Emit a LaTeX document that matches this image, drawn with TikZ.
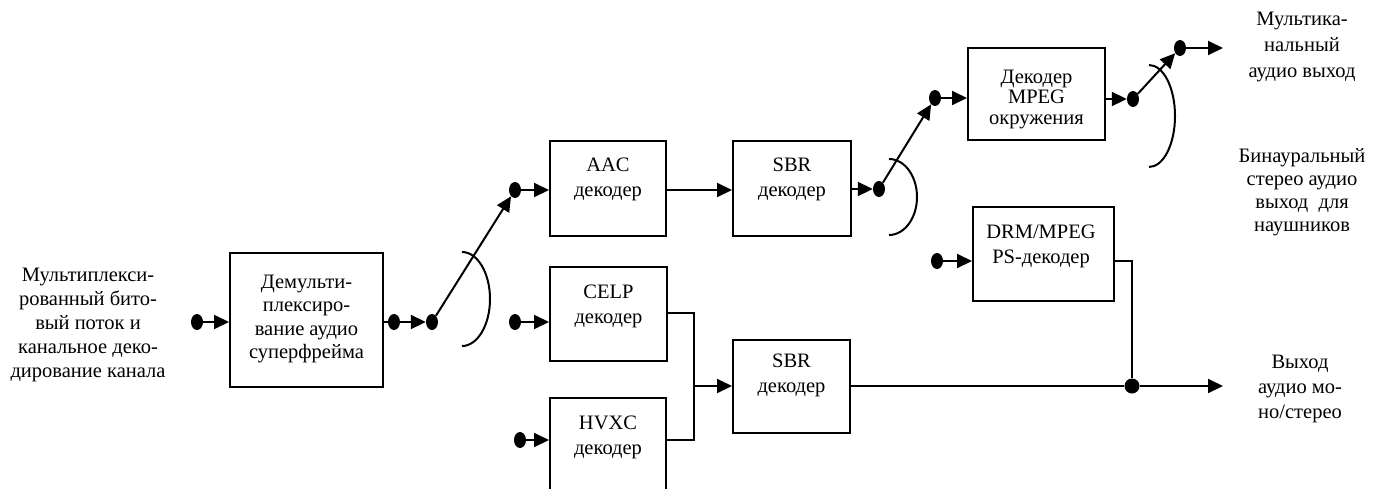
\documentclass[tikz,border=0pt]{standalone}
\usepackage{fontspec}
\setmainfont{Liberation Serif}
\usetikzlibrary{arrows.meta,shapes.geometric}
\tikzset{
  box/.style={draw,line width=2pt,inner sep=0pt},
  dotn/.style={ellipse,fill,minimum width=12pt,minimum height=16pt,inner sep=0pt},
  jdot/.style={circle,fill,minimum size=15pt,inner sep=0pt},
  ln/.style={line width=2pt},
  arr/.style={ln,-{Triangle[length=15pt,width=14pt]}},
  txt/.style={align=center,inner sep=0pt,font=\fontsize{20.5}{#1}\selectfont},
  txt/.default=25
}
\begin{document}
\begin{tikzpicture}[x=1pt,y=-1pt]
\useasboundingbox (0,0) rectangle (1379,488);
\clip (0,0) rectangle (1379,488);
% boxes
\node[box,minimum width=153pt,minimum height=134pt] (demux) at (306.5,320) {};
\node[box,minimum width=116pt,minimum height=95pt] (aac) at (608,188.5) {};
\node[box,minimum width=118pt,minimum height=95pt] (sbr1) at (792,188.5) {};
\node[box,minimum width=137pt,minimum height=92pt] (mpeg) at (1036.5,94) {};
\node[box,minimum width=141pt,minimum height=94pt] (drm) at (1043.5,254) {};
\node[box,minimum width=117pt,minimum height=94pt] (celp) at (608.5,314) {};
\node[box,minimum width=116pt,minimum height=104pt] (hvxc) at (608,450) {};
\node[box,minimum width=117pt,minimum height=93pt] (sbr2) at (791.5,386) {};
% texts
\node[txt=24] (lin) at (88,325) {Мультиплекси-\\рованный бито-\\вый поток и\\канальное деко-\\дирование канала};
\node[txt=23.3] (demuxT) at (306.5,319) {Демульти-\\плексиро-\\вание аудио\\суперфрейма};
\node[txt] (aacT) at (608,179) {AAC\\декодер};
\node[txt] (sbr1T) at (792,179) {SBR\\декодер};
\node[txt=20.5] (mpegT) at (1036.5,99) {Декодер\\MPEG\\окружения};
\node[txt] (drmT) at (1041,246) {DRM/MPEG\\PS-декодер};
\node[txt] (celpT) at (608.5,306) {CELP\\декодер};
\node[txt] (hvxcT) at (608,437) {HVXC\\декодер};
\node[txt] (sbr2T) at (791.5,375) {SBR\\декодер};
\node[txt=26] (outT1) at (1302,47) {Мультика-\\нальный\\аудио выход};
\node[txt=23] (outT2) at (1302,192) {Бинауральный\\стерео аудио\\выход\ \ для\\наушников};
\node[txt=25] (outT3) at (1300,389) {Выход\\аудио мо-\\но/стерео};
% dots
\node[dotn] (d0) at (197,322) {};
\node[dotn] (d1) at (394,322) {};
\node[dotn] (d2) at (432,322) {};
\node[dotn] (d3) at (515,190) {};
\node[dotn] (d4) at (515,322) {};
\node[dotn] (d5) at (520,440) {};
\node[dotn] (d6) at (879,189) {};
\node[dotn] (d7) at (935,98) {};
\node[dotn] (d8) at (1133,99) {};
\node[dotn] (d9) at (1180,48) {};
\node[dotn] (d10) at (937,261) {};
\node[jdot] (j) at (1132,386) {};
\coordinate (o1) at (1223,48);
\coordinate (o2) at (1223,386);
\coordinate (m) at (694,386);
% connectors
\draw[arr] (d0) -- (demux.west |- d0);
\draw[ln] (demux.east |- d1) -- (d1);
\draw[arr] (d1) -- (d2);
\draw[arr] (d2) -- (d3);
\draw[arr] (d3) -- (aac.west |- d3);
\draw[arr] (d4) -- (celp.west |- d4);
\draw[arr] (d5) -- (hvxc.west |- d5);
\draw[arr] (aac.east |- 0,190) -- (sbr1.west |- 0,190);
\draw[arr] (sbr1.east |- d6) -- (d6);
\draw[arr] (d6) -- (d7);
\draw[arr] (d7) -- (mpeg.west |- d7);
\draw[arr] (mpeg.east |- d8) -- (d8);
\draw[arr] (d8) -- (d9);
\draw[arr] (d9) -- (o1);
\draw[arr] (d10) -- (drm.west |- d10);
\draw[ln] (celp.east |- 0,313) -- (694,313) -- (694,440) -- (hvxc.east |- 0,440);
\draw[arr] (m) -- (sbr2.west |- m);
\draw[ln] (sbr2.east |- j) -- (j);
\draw[arr] (j) -- (o2);
\draw[ln] (drm.east |- d10) -- (j |- d10) -- (j);
% switch arcs
\draw[ln] (462,252) .. controls (477.5,252) and (490,273) .. (490,299) .. controls (490,325) and (477.5,346) .. (462,346);
\draw[ln] (889,159) .. controls (904.5,159) and (917,176) .. (917,197) .. controls (917,218) and (904.5,235) .. (889,235);
\draw[ln] (1149,65) .. controls (1163.5,65) and (1175,88) .. (1175,116) .. controls (1175,144) and (1163.5,167) .. (1149,167);
\end{tikzpicture}
\end{document}
